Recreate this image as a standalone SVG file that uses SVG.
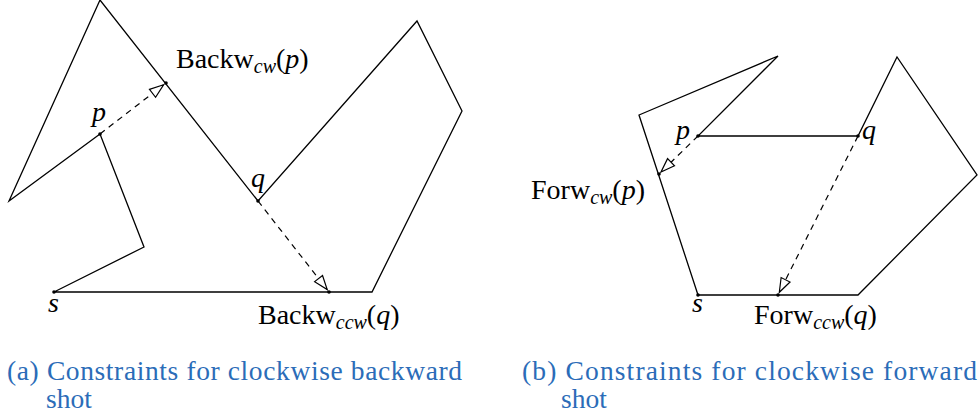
<svg xmlns="http://www.w3.org/2000/svg" width="980" height="420" viewBox="0 0 980 420">
<style>
.poly{fill:none;stroke:#000;stroke-width:1.3;stroke-linejoin:miter}
.edge{fill:none;stroke:#000;stroke-width:1.2;stroke-dasharray:6 5;marker-end:url(#tri)}
.dot{fill:#000}
.lbl{font-family:"Liberation Serif","DejaVu Serif",serif;font-size:28px;fill:#000}
.it{font-style:italic}
.sub{font-style:italic;font-size:20px}
.cap{font-family:"Liberation Serif","DejaVu Serif",serif;font-size:27.5px;fill:#2b6cb8}
</style>
<defs>
<marker id="tri" markerUnits="userSpaceOnUse" markerWidth="18" markerHeight="14" refX="15" refY="6" orient="auto" overflow="visible">
<path d="M1,1 L15,6 L1,11 z" fill="#fff" stroke="#000" stroke-width="1.2"/>
</marker>
</defs>

<g id="polygon-a">
<polygon class="poly" points="54,292 144,247 100,134 9,201 100,0 258,201 417,21 462,111 372,292"/>
</g>
<g id="polygon-b">
<polygon class="poly" points="698,295 639,115 778,56 698,136 858,136 897,57 977,175 858,295"/>
</g>

<g id="connectors">
<line class="edge" x1="100" y1="134" x2="163.6" y2="84.8"/>
<line class="edge" x1="258" y1="201" x2="327.2" y2="289.6"/>
<line class="edge" x1="698" y1="136" x2="661" y2="172"/>
<line class="edge" x1="858" y1="136" x2="779.3" y2="292.3"/>
</g>

<g id="points">
<circle class="dot" cx="100" cy="134" r="1.8"/>
<circle class="dot" cx="166" cy="83" r="1.8"/>
<circle class="dot" cx="258" cy="201" r="1.8"/>
<circle class="dot" cx="329" cy="292" r="1.8"/>
<circle class="dot" cx="54" cy="292" r="1.8"/>
<circle class="dot" cx="698" cy="136" r="1.8"/>
<circle class="dot" cx="858" cy="136" r="1.8"/>
<circle class="dot" cx="659" cy="174" r="1.8"/>
<circle class="dot" cx="778" cy="295" r="1.8"/>
<circle class="dot" cx="698" cy="295" r="1.8"/>
</g>

<g id="labels-a">
<text class="lbl it" x="92" y="121">p</text>
<text class="lbl it" x="251" y="187">q</text>
<text class="lbl it" x="48" y="312">s</text>
<text class="lbl" x="176" y="68">Backw<tspan class="sub" dy="5">cw</tspan><tspan dy="-5">(</tspan><tspan class="it">p</tspan>)</text>
<text class="lbl" x="258" y="324">Backw<tspan class="sub" dy="5">ccw</tspan><tspan dy="-5">(</tspan><tspan class="it">q</tspan>)</text>
</g>

<g id="labels-b">
<text class="lbl it" x="676" y="139">p</text>
<text class="lbl it" x="862" y="139">q</text>
<text class="lbl it" x="692" y="312">s</text>
<text class="lbl" x="531" y="199">Forw<tspan class="sub" dy="5">cw</tspan><tspan dy="-5">(</tspan><tspan class="it">p</tspan>)</text>
<text class="lbl" x="754" y="324">Forw<tspan class="sub" dy="5">ccw</tspan><tspan dy="-5">(</tspan><tspan class="it">q</tspan>)</text>
</g>

<g id="caption-a">
<text class="cap" x="7" y="380" textLength="455">(a) Constraints for clockwise backward</text>
<text class="cap" x="46" y="408">shot</text>
</g>
<g id="caption-b">
<text class="cap" x="522" y="380" textLength="455">(b) Constraints for clockwise forward</text>
<text class="cap" x="561" y="408">shot</text>
</g>
</svg>
